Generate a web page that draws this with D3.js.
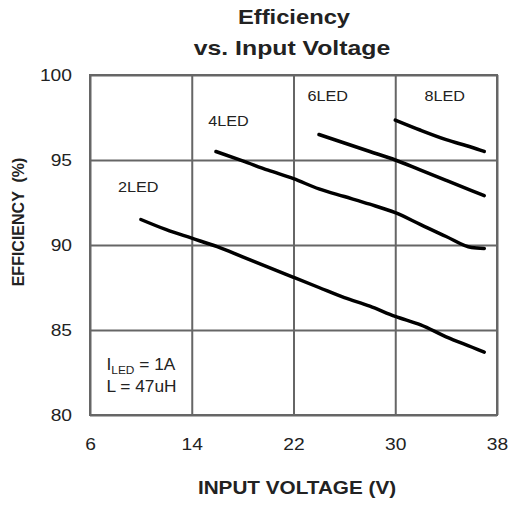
<!DOCTYPE html>
<html>
<head>
<meta charset="utf-8">
<script src="https://cdn.jsdelivr.net/npm/d3@7"></script>
<style>
  body { margin: 0; background: #fff; }
  text { font-family: "Liberation Sans", Arial, sans-serif; fill: #222; }
</style>
</head>
<body>
<svg></svg>
<script>
// chart data
const xTicks = [6, 14, 22, 30, 38];
const yTicks = [80, 85, 90, 95, 100];

const led2V = [10, 12, 14, 16, 18, 20, 22, 24, 26, 28, 30, 32, 34, 36, 37];
const led2E = [91.5, 90.9, 90.4, 89.9, 89.3, 88.7, 88.1, 87.5, 86.9, 86.4, 85.8, 85.3, 84.6, 84.0, 83.7];

const led4V = [15.9, 18, 20, 22, 24, 26, 28, 30, 32, 34, 36, 37];
const led4E = [95.5, 94.95, 94.4, 93.9, 93.3, 92.85, 92.4, 91.9, 91.2, 90.5, 89.85, 89.8];

const led6V = [24, 26, 28, 30, 32, 34, 36, 37];
const led6E = [96.5, 96.0, 95.5, 95.0, 94.4, 93.8, 93.2, 92.9];

const led8V = [30, 32, 34, 36, 37];
const led8E = [97.35, 96.75, 96.2, 95.75, 95.5];

const seriesNames = ["2LED", "4LED", "6LED", "8LED"];
const labelPos = [[8.2, 93.1], [15.3, 97.0], [23.1, 98.45], [32.3, 98.45]];

const width = 509;
const height = 506;

const svg = d3.select("svg")
  .attr("width", width)
  .attr("height", height);

// the original artwork is a bit wider than the fonts, so stretch texts sideways
function stretch(sel, k) {
  sel.each(function () {
    const w = this.getComputedTextLength();
    d3.select(this)
      .attr("textLength", w * k)
      .attr("lengthAdjust", "spacingAndGlyphs");
  });
}

const x = d3.scaleLinear().domain([6, 38]).range([90, 497]);
const y = d3.scaleLinear().domain([80, 100]).range([415, 75]);

// grid + tick labels
const xAxis = svg.append("g")
  .attr("transform", `translate(0, ${y(80)})`)
  .call(d3.axisBottom(x).tickValues(xTicks).tickSize(-(y(80) - y(100))).tickPadding(23));
const yAxis = svg.append("g")
  .attr("transform", `translate(${x(6)}, 0)`)
  .call(d3.axisLeft(y).tickValues(yTicks).tickSize(-(x(38) - x(6))).tickPadding(18));

[xAxis, yAxis].forEach(g => {
  g.select(".domain").remove();
  g.selectAll("line").attr("stroke", "#666").attr("stroke-width", 2);
  g.selectAll("text")
    .style("font-size", "17px")
    .attr("fill", "#222");
  stretch(g.selectAll("text"), 1.13);
});
xAxis.selectAll("text").attr("dy", "0.71em");

// frame
svg.append("rect")
  .attr("x", x(6))
  .attr("y", y(100))
  .attr("width", x(38) - x(6))
  .attr("height", y(80) - y(100))
  .attr("fill", "none")
  .attr("stroke", "#666")
  .attr("stroke-width", 2);

// curves
const line = d3.line()
  .x(d => x(d[0]))
  .y(d => y(d[1]))
  .curve(d3.curveMonotoneX);

const allSeries = [
  d3.zip(led2V, led2E),
  d3.zip(led4V, led4E),
  d3.zip(led6V, led6E),
  d3.zip(led8V, led8E)
];

svg.selectAll(".curve")
  .data(allSeries)
  .enter()
  .append("path")
  .attr("class", "curve")
  .attr("d", line)
  .attr("fill", "none")
  .attr("stroke", "#000")
  .attr("stroke-width", 3.5)
  .attr("stroke-linecap", "round");

// series labels
svg.selectAll(".lbl")
  .data(seriesNames)
  .enter()
  .append("text")
  .attr("class", "lbl")
  .attr("x", (d, i) => x(labelPos[i][0]))
  .attr("y", (d, i) => y(labelPos[i][1]))
  .style("font-size", "15px")
  .text(d => d)
  .call(stretch, 1.08);

// conditions note
const note = svg.append("text")
  .attr("x", x(7.3))
  .attr("y", y(82.65))
  .style("font-size", "16px");
note.append("tspan").text("I");
note.append("tspan").attr("dy", 4).style("font-size", "11px").text("LED");
note.append("tspan").attr("dy", -4).text(" = 1A");
stretch(note, 1.08);
svg.append("text")
  .attr("x", x(7.3))
  .attr("y", y(81.35))
  .style("font-size", "16px")
  .text("L = 47uH")
  .call(stretch, 1.08);

// titles
svg.append("text")
  .attr("x", 294)
  .attr("y", 24)
  .attr("text-anchor", "middle")
  .style("font-size", "21px")
  .style("font-weight", "bold")
  .text("Efficiency")
  .call(stretch, 1.13);
svg.append("text")
  .attr("x", 292)
  .attr("y", 55)
  .attr("text-anchor", "middle")
  .style("font-size", "21px")
  .style("font-weight", "bold")
  .text("vs. Input Voltage")
  .call(stretch, 1.18);

svg.append("text")
  .attr("x", 297)
  .attr("y", 494)
  .attr("text-anchor", "middle")
  .style("font-size", "18px")
  .style("font-weight", "bold")
  .text("INPUT VOLTAGE (V)")
  .call(stretch, 1.15);

svg.append("text")
  .attr("transform", "translate(24, 222) rotate(-90)")
  .attr("text-anchor", "middle")
  .style("font-size", "16px")
  .style("font-weight", "bold")
  .style("white-space", "pre")
  .text("EFFICIENCY  (%)");
</script>
</body>
</html>
